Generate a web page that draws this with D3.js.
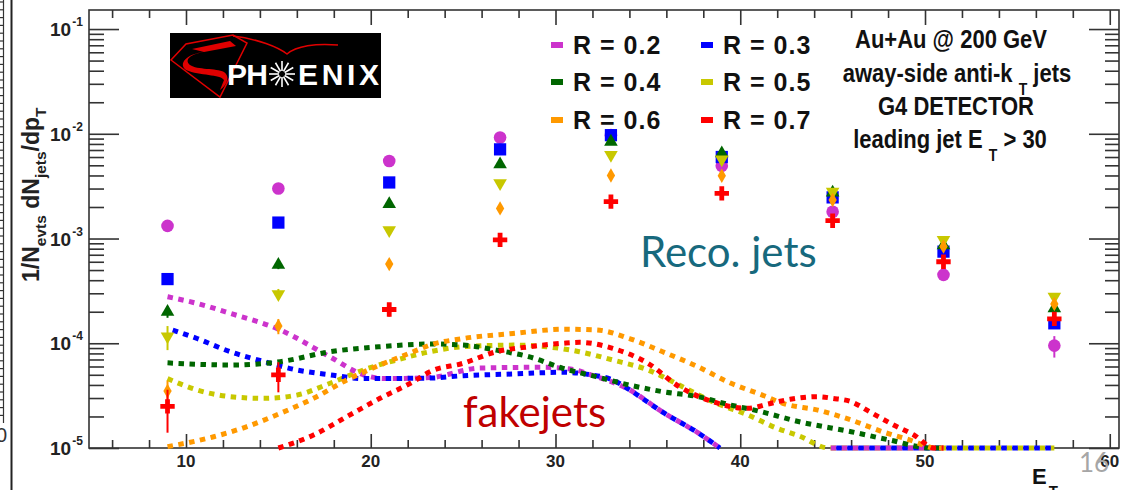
<!DOCTYPE html>
<html>
<head>
<meta charset="utf-8">
<script src="https://cdn.jsdelivr.net/npm/d3@7"></script>
<style>
body { margin: 0; background: #fff; }
svg { display: block; }
</style>
</head>
<body>
<svg id="chart" width="1127" height="490"></svg>
<script>
// reco jets, bin centres in E_T
var binE = [9, 15, 21, 27, 33, 39, 45, 51, 57];

var recoR02 = [1.32e-3, 3.0e-3, 5.5e-3, 9.2e-3, 9.7e-3, 4.95e-3, 1.8e-3, 4.5e-4, 9.5e-5];
var recoR03 = [4.1e-4, 1.42e-3, 3.43e-3, 7.1e-3, 9.7e-3, 6.0e-3, 2.47e-3, 7.5e-4, 1.55e-4];
var recoR04 = [2.0e-4, 5.6e-4, 2.13e-3, 5.1e-3, 8.4e-3, 6.5e-3, 2.75e-3, 8.6e-4, 2.15e-4];
var recoR05 = [1.16e-4, 2.95e-4, 1.2e-3, 3.37e-3, 6.3e-3, 5.7e-3, 2.8e-3, 9.7e-4, 2.78e-4];
var recoR06 = [3.5e-5, 1.46e-4, 5.7e-4, 1.94e-3, 4.0e-3, 3.98e-3, 2.33e-3, 8.4e-4, 2.37e-4];
var recoR07 = [2.5e-5, 5.0e-5, 2.1e-4, 9.7e-4, 2.25e-3, 2.7e-3, 1.48e-3, 6.0e-4, 1.71e-4];

var errR02 = [6e-5, 1.2e-4, 1.8e-4, 2.6e-4, 3e-4, 2e-4, 1.2e-4, 5e-5, 2.2e-5];
var errR03 = [4e-5, 8e-5, 1.4e-4, 2.4e-4, 3e-4, 2.2e-4, 1.3e-4, 5e-5, 1.6e-5];
var errR04 = [2.5e-5, 5e-5, 1.1e-4, 2e-4, 2.8e-4, 2.4e-4, 1.4e-4, 5e-5, 2e-5];
var errR05 = [3e-5, 3.5e-5, 8e-5, 1.7e-4, 2.4e-4, 2.2e-4, 1.4e-4, 6e-5, 2.2e-5];
var errR06 = [9e-6, 2.4e-5, 5e-5, 1.2e-4, 1.9e-4, 1.9e-4, 1.3e-4, 5e-5, 2e-5];
var errR07 = [1.1e-5, 1.6e-5, 3e-5, 8e-5, 1.4e-4, 1.5e-4, 1e-4, 4.5e-5, 1.8e-5];

// fake jets (dotted curves); null = dropped below the axis
var fakeE02 = [9, 10.6, 12.4, 15.1, 17.8, 19.6, 20.7, 23.2, 25.9, 29.3, 31.0, 31.9, 34.0, 35.8, 37.7, 38.9, 40, 44.9, 51];
var fake02  = [2.78e-4, 2.4e-4, 1.93e-4, 1.34e-4, 7.4e-5, 5.0e-5, 4.6e-5, 4.7e-5, 5.8e-5, 5.9e-5, 5.6e-5, 5.0e-5, 3.6e-5, 2.2e-5, 1.4e-5, 1.0e-5, null, 1e-5, 1e-5];
var fakeE03 = [9, 10.6, 12.4, 14.2, 16.0, 17.8, 19.6, 23.2, 25.0, 27.7, 30.4, 31.9, 33.1, 34.0, 35.8, 37.7, 38.9, 40, 44.9, 57];
var fake03  = [1.39e-4, 1.11e-4, 8.3e-5, 6.7e-5, 5.56e-5, 5.0e-5, 4.6e-5, 4.65e-5, 4.9e-5, 5.09e-5, 5.28e-5, 5.0e-5, 4.46e-5, 3.6e-5, 2.2e-5, 1.4e-5, 1.0e-5, null, 1e-5, 1e-5];
var fakeE04 = [9, 12.4, 15.1, 17.8, 20.5, 23.2, 25.0, 26.8, 28.6, 30.4, 32.2, 34.0, 35.8, 37.7, 39.5, 41.0, 43.2, 46.0, 48.1, 50.3, 51];
var fake04  = [6.5e-5, 6.2e-5, 6.67e-5, 8.3e-5, 9.27e-5, 9.84e-5, 9.6e-5, 8.6e-5, 7.4e-5, 5.77e-5, 4.8e-5, 3.99e-5, 3.45e-5, 3.09e-5, 2.57e-5, 2.25e-5, 1.78e-5, 1.43e-5, 1.19e-5, 1.0e-5, 1.0e-5];
var fakeE05 = [9, 10.6, 12.4, 14.2, 16.0, 17.8, 19.6, 21.4, 23.2, 25.0, 27.7, 29.5, 31.3, 33.1, 35.0, 36.7, 38.5, 40.4, 42.0, 43.2, 44.8, 57];
var fake05  = [4.6e-5, 3.58e-5, 3.09e-5, 2.98e-5, 3.2e-5, 4.15e-5, 5.56e-5, 6.92e-5, 8.3e-5, 9.27e-5, 9.6e-5, 9.27e-5, 8.3e-5, 6.92e-5, 5.56e-5, 3.99e-5, 2.77e-5, 2.07e-5, 1.54e-5, 1.3e-5, 1.0e-5, 1.0e-5];
var fakeE06 = [9, 11.5, 13.3, 15.1, 16.9, 18.7, 20.5, 22.3, 23.2, 25.0, 27.7, 30.4, 32.2, 34.0, 35.8, 37.7, 39.5, 41.2, 42.3, 44.2, 46.0, 47.7, 49.2, 50.6, 51];
var fake06  = [1.03e-5, 1.28e-5, 1.6e-5, 2.14e-5, 2.98e-5, 4.46e-5, 6.2e-5, 8.3e-5, 9.6e-5, 1.11e-4, 1.24e-4, 1.36e-4, 1.34e-4, 1.11e-4, 8.3e-5, 5.97e-5, 4.15e-5, 3.2e-5, 2.67e-5, 2.3e-5, 1.85e-5, 1.43e-5, 1.19e-5, 1.0e-5, 1.0e-5];
var fakeE07 = [15.0, 16.9, 18.7, 20.5, 22.3, 23.2, 25.0, 26.8, 28.6, 30.4, 31.3, 33.1, 35.0, 36.7, 38.5, 40.4, 41.5, 42.7, 44.2, 45.0, 46.0, 47.0, 48.3, 49.4, 50.5, 51];
var fake07  = [1.0e-5, 1.33e-5, 1.99e-5, 2.98e-5, 4.3e-5, 5.35e-5, 6.44e-5, 8.3e-5, 9.27e-5, 1.0e-4, 1.02e-4, 8.95e-5, 6.44e-5, 3.85e-5, 2.77e-5, 2.39e-5, 2.63e-5, 2.92e-5, 3.09e-5, 2.98e-5, 2.77e-5, 2.22e-5, 1.66e-5, 1.33e-5, 1.0e-5, 1.0e-5];

var labels = ["R = 0.2", "R = 0.3", "R = 0.4", "R = 0.5", "R = 0.6", "R = 0.7"];
var colors = ["#cc33cc", "#0000ff", "#006600", "#c8c800", "#ff9900", "#ff0000"];
var markers = ["circle", "square", "triangle", "triangleDown", "diamond", "cross"];

var xMajor = [10, 20, 30, 40, 50, 60];
var xMinor = [6, 8, 12, 14, 16, 18, 22, 24, 26, 28, 32, 34, 36, 38, 42, 44, 46, 48, 52, 54, 56, 58];
var yMajor = [1e-5, 1e-4, 1e-3, 1e-2, 1e-1];
var yExp = ["-5", "-4", "-3", "-2", "-1"];

var reco = [recoR02, recoR03, recoR04, recoR05, recoR06, recoR07];
var errs = [errR02, errR03, errR04, errR05, errR06, errR07];
var fakeX = [fakeE02, fakeE03, fakeE04, fakeE05, fakeE06, fakeE07];
var fakeY = [fake02, fake03, fake04, fake05, fake06, fake07];

var FONT = "'Liberation Sans', Arial, Helvetica, sans-serif";
var svg = d3.select("#chart");
var L = 89, R = 1119, T = 10, B = 448;

var x = d3.scaleLinear().domain([4.75, 60.5]).range([L, R]);
var y = d3.scaleLog().domain([1e-5, 0.152]).range([B, T]);

var yMinor = [];
yMajor.forEach(function(d) {
  for (var m = 2; m <= 9; m++) if (d * m < 0.152) yMinor.push(d * m);
});

// slide leftovers on the left edge
svg.append("line").attr("x1", 11.5).attr("x2", 11.5).attr("y1", 0).attr("y2", 490)
  .attr("stroke", "#222").attr("stroke-width", 2);
svg.append("line").attr("x1", 3.5).attr("x2", 3.5).attr("y1", 0).attr("y2", 423)
  .attr("stroke", "#333").attr("stroke-width", 1.2);
svg.append("g").selectAll("line").data(d3.range(2, 423, 7.8)).enter().append("line")
  .attr("x1", 0).attr("x2", 3.5).attr("y1", function(d) { return d; }).attr("y2", function(d) { return d; })
  .attr("stroke", "#333").attr("stroke-width", 1.2);
svg.append("text").attr("x", 7).attr("y", 442).attr("text-anchor", "end")
  .attr("font-family", FONT).attr("font-size", 20).attr("fill", "#333").text("0");

// frame + ticks
function tickAxis(gen, tr, vals, size) {
  var g = svg.append("g").attr("transform", tr)
    .call(gen.tickValues(vals).tickSize(size).tickFormat(""));
  g.select(".domain").remove();
  g.selectAll("line").attr("stroke", "#333").attr("stroke-width", 1.6);
}
tickAxis(d3.axisTop(x), "translate(0," + B + ")", xMajor, 14);
tickAxis(d3.axisTop(x), "translate(0," + B + ")", xMinor, 8);
tickAxis(d3.axisBottom(x), "translate(0," + T + ")", xMajor, 15);
tickAxis(d3.axisBottom(x), "translate(0," + T + ")", xMinor, 8);
tickAxis(d3.axisRight(y), "translate(" + L + ",0)", yMajor, 30);
tickAxis(d3.axisRight(y), "translate(" + L + ",0)", yMinor, 15);
tickAxis(d3.axisLeft(y), "translate(" + R + ",0)", yMajor, 30);
tickAxis(d3.axisLeft(y), "translate(" + R + ",0)", yMinor, 14);

svg.append("rect").attr("x", L).attr("y", T).attr("width", R - L).attr("height", B - T)
  .attr("fill", "none").attr("stroke", "#333").attr("stroke-width", 1.6);

// tick labels
svg.append("g").selectAll("text").data(xMajor).enter().append("text")
  .attr("x", function(d) { return x(d); }).attr("y", 467)
  .attr("text-anchor", "middle").attr("font-family", FONT).attr("font-weight", "bold")
  .attr("font-size", 17).attr("fill", "#222").text(function(d) { return d; });

var yl = svg.append("g").selectAll("text").data(yMajor).enter().append("text")
  .attr("x", 50).attr("y", function(d) { return y(d) + 7; })
  .attr("font-family", FONT).attr("font-weight", "bold").attr("fill", "#222");
yl.append("tspan").attr("font-size", 19).text("10");
yl.append("tspan").attr("font-size", 12).attr("dy", -10).attr("dx", 1)
  .text(function(d, i) { return yExp[i]; });

// axis titles
var yt = svg.append("text").attr("transform", "translate(39,282) rotate(-90)")
  .attr("font-family", FONT).attr("font-weight", "bold").attr("font-size", 23).attr("fill", "#222");
yt.append("tspan").text("1/N");
yt.append("tspan").attr("font-size", 15.5).attr("dy", 7).text("evts");
yt.append("tspan").attr("dy", -7).text(" dN");
yt.append("tspan").attr("font-size", 15.5).attr("dy", 7).text("jets");
yt.append("tspan").attr("dy", -7).text("/dp");
yt.append("tspan").attr("font-size", 15.5).attr("dy", 7).text("T");

var xt = svg.append("text").attr("x", 1032).attr("y", 484)
  .attr("font-family", FONT).attr("font-weight", "bold").attr("font-size", 22).attr("fill", "#111");
xt.append("tspan").text("E");
xt.append("tspan").attr("font-size", 15).attr("dy", 12).attr("dx", 2).text("T");

// fake jet curves
var line = d3.line()
  .defined(function(d) { return d[1] != null; })
  .x(function(d) { return x(d[0]); })
  .y(function(d) { return y(d[1]); })
  .curve(d3.curveMonotoneX);

var curveOrder = [3, 0, 1, 2, 4, 5];
curveOrder.forEach(function(i) {
  var pts = fakeX[i].map(function(e, k) { return [e, fakeY[i][k]]; });
  svg.append("path").attr("d", line(pts))
    .attr("fill", "none").attr("stroke", colors[i]).attr("stroke-width", 5)
    .attr("stroke-dasharray", "5.5 5.5").attr("stroke-dashoffset", i == 1 ? 5.5 : 0);
});

// reco jet markers
function symbolFor(type) {
  if (type == "circle") return d3.symbol().type(d3.symbolCircle).size(125)();
  if (type == "square") return d3.symbol().type(d3.symbolSquare).size(150)();
  if (type == "triangle" || type == "triangleDown") return d3.symbol().type(d3.symbolTriangle).size(80)();
  if (type == "diamond") return d3.symbol().type(d3.symbolDiamond).size(60)();
  return d3.symbol().type(d3.symbolCross).size(115)();
}

reco.forEach(function(vals, i) {
  var g = svg.append("g");
  g.selectAll("line").data(vals).enter().append("line")
    .attr("x1", function(d, k) { return x(binE[k]); })
    .attr("x2", function(d, k) { return x(binE[k]); })
    .attr("y1", function(d, k) { return y(d - errs[i][k]); })
    .attr("y2", function(d, k) { return y(d + errs[i][k]); })
    .attr("stroke", colors[i]).attr("stroke-width", 2);
  g.selectAll("path").data(vals).enter().append("path")
    .attr("d", symbolFor(markers[i]))
    .attr("transform", function(d, k) {
      return "translate(" + x(binE[k]) + "," + y(d) + ")" + (markers[i] == "triangleDown" ? " rotate(180)" : "");
    })
    .attr("fill", colors[i]);
});

// legend
var legPos = [[551, 45], [701, 45], [551, 82], [701, 82], [551, 120], [701, 120]];
labels.forEach(function(lab, i) {
  svg.append("rect").attr("x", legPos[i][0]).attr("y", legPos[i][1] - 3)
    .attr("width", 12).attr("height", 6).attr("fill", colors[i]);
  svg.append("text").attr("x", legPos[i][0] + 22).attr("y", legPos[i][1] + 9)
    .attr("font-family", FONT).attr("font-weight", "bold").attr("font-size", 25)
    .attr("letter-spacing", 1).attr("fill", "#111").text(lab);
});

// info text, top right
function infoLine(cx, base, parts) {
  var t = svg.append("text").attr("transform", "translate(" + cx + "," + base + ") scale(1,1.14)")
    .attr("text-anchor", "middle").attr("font-family", FONT).attr("font-weight", "bold")
    .attr("font-size", 22).attr("fill", "#111");
  parts.forEach(function(p) {
    var s = t.append("tspan").text(p[0]);
    if (p[1]) s.attr("dy", p[1]);
    if (p[2]) s.attr("font-size", 14);
  });
}
infoLine(951, 48, [["Au+Au @ 200 GeV"]]);
infoLine(957, 82, [["away-side anti-k "], ["T", 11, true], [" jets", -11]]);
infoLine(956, 115, [["G4 DETECTOR"]]);
infoLine(950, 148, [["leading jet E "], ["T", 11, true], [" > 30", -11]]);

// slide annotations
svg.append("text").attr("x", 640).attr("y", 267).attr("font-family", "Lato, 'Open Sans', sans-serif")
  .attr("font-size", 42).attr("fill", "#17697d").text("Reco. jets");
svg.append("text").attr("x", 463).attr("y", 427).attr("font-family", "Lato, 'Open Sans', sans-serif")
  .attr("font-size", 42).attr("fill", "#c00000").text("fakejets");
svg.append("text").attr("x", 1079).attr("y", 472).attr("font-family", "Lato, 'Open Sans', sans-serif")
  .attr("font-size", 26).attr("fill", "#a6a6a6").text("16");

// PHENIX logo
var logo = svg.append("g");
logo.append("rect").attr("x", 170).attr("y", 33).attr("width", 211).attr("height", 65).attr("fill", "#000");
logo.append("path").attr("d", "M171,60 L186,44 L233,35 L247,43 L220,97 Z")
  .attr("fill", "none").attr("stroke", "#e00000").attr("stroke-width", 1.5);
logo.append("path").attr("d", "M192,49 L230,41 L236,46 L204,52 Z").attr("fill", "#e00000");
logo.append("path").attr("d", "M204,52 C190,54 184,60 190,65 C197,70 216,68 224,72 C230,76 228,84 220,90 L224,80 C220,74 200,76 186,70 C178,64 186,54 204,52 Z")
  .attr("fill", "#e00000");
logo.append("path").attr("d", "M233,36 C258,39 278,47 287,54 C296,46 316,43 338,45")
  .attr("fill", "none").attr("stroke", "#e00000").attr("stroke-width", 1.5);
logo.append("text").attr("x", 227).attr("y", 85).attr("font-family", FONT).attr("font-weight", "bold")
  .attr("font-size", 30).attr("fill", "#fff").attr("textLength", 41).text("PH");
logo.append("text").attr("x", 298).attr("y", 85).attr("font-family", FONT).attr("font-weight", "bold")
  .attr("font-size", 30).attr("fill", "#fff").attr("textLength", 81).text("ENIX");
logo.append("g").selectAll("line").data(d3.range(12)).enter().append("line")
  .attr("x1", function(d) { return 282 + 3 * Math.cos(d * Math.PI / 6); })
  .attr("y1", function(d) { return 74 + 3 * Math.sin(d * Math.PI / 6); })
  .attr("x2", function(d) { return 282 + 13 * Math.cos(d * Math.PI / 6); })
  .attr("y2", function(d) { return 74 + 13 * Math.sin(d * Math.PI / 6); })
  .attr("stroke", "#fff").attr("stroke-width", 1.6);
</script>
</body>
</html>
